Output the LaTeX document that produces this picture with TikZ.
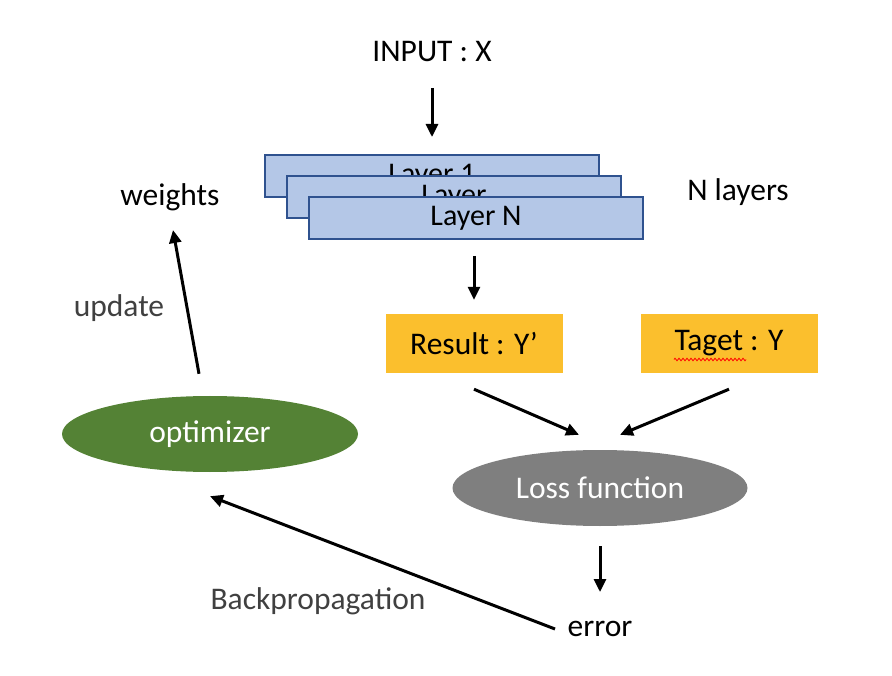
\documentclass[tikz,border=0pt]{standalone}
\usepackage{fontspec}
\setmainfont{Carlito}
\usetikzlibrary{positioning,shapes.geometric,arrows.meta,decorations.pathmorphing}

\definecolor{layerfill}{RGB}{180,199,231}
\definecolor{layerline}{RGB}{47,82,143}
\definecolor{boxgold}{RGB}{251,191,45}
\definecolor{optgreen}{RGB}{84,130,53}
\definecolor{lossgray}{RGB}{127,127,127}
\definecolor{labelgray}{RGB}{64,64,64}

\begin{document}
\begin{tikzpicture}[
x=1pt,y=-1pt,
every node/.style={font=\fontsize{31.5}{36}\selectfont, inner sep=0pt},
layer/.style={draw=layerline, line width=2pt, fill=layerfill, minimum width=334pt, minimum height=42pt, font=\fontsize{30}{34}\selectfont},
gold/.style={fill=boxgold, minimum width=177pt, minimum height=59pt},
blob/.style={ellipse, minimum width=295pt, minimum height=76pt, text=white},
lbl/.style={text=labelgray},
arr/.style={line width=3pt, -{Triangle[length=13pt,width=12pt]}},
squiggle/.style={red, line width=0.8pt, decorate, decoration={zigzag,segment length=4pt,amplitude=1.3pt}},
]

\useasboundingbox (0,0) rectangle (892,676);

\node (input) at (432,52) {INPUT : X};

% stacked layers
\node[layer] (layer1) at (432,176) {Layer 1};
\node[layer] (layer2) at (454,197) {Layer};
\node[layer] (layerN) at (476,218) {Layer N};
\node (nlayers) at (738,192) {N layers};
\node (weights) at (170,197) {weights};

\node[gold] (result) at (474,343.5) {Result : Y’};
\node[gold] (target) at (729,343.5) {Taget : Y};
\draw[squiggle] ([xshift=-55pt,yshift=-16pt]target.center) -- ([xshift=17pt,yshift=-16pt]target.center);

\node[blob, fill=lossgray] (loss) at (600,488) {Loss function};
\node[blob, fill=optgreen, minimum width=296pt] (optimizer) at (210,434) {optimizer};
\node (error) at (600,629) {error};

\node[lbl] (update) at (119,308) {update};
\node[lbl] (backprop) at (318,601) {Backpropagation};

\draw[arr] ([yshift=-36pt]input.center) -- ([yshift=17pt]input.center |- layer1.north);
\draw[arr] ([yshift=-16pt]result.north |- layerN.south) -- ([yshift=14pt]result.north);
\draw[arr] ([yshift=-16pt]result.south) -- ([xshift=-21pt,yshift=15pt]loss.north);
\draw[arr] ([yshift=-16pt]target.south) -- ([xshift=20pt,yshift=15pt]loss.north);
\draw[arr] ([yshift=-20pt]loss.south) -- ([yshift=37pt]error.center);
\draw[arr] ([xshift=-45pt]error.center) -- ([yshift=-24pt]optimizer.south);
\draw[arr] ([xshift=-11pt,yshift=22pt]optimizer.north) -- ([xshift=3pt,yshift=-33pt]weights.center);

\end{tikzpicture}
\end{document}
